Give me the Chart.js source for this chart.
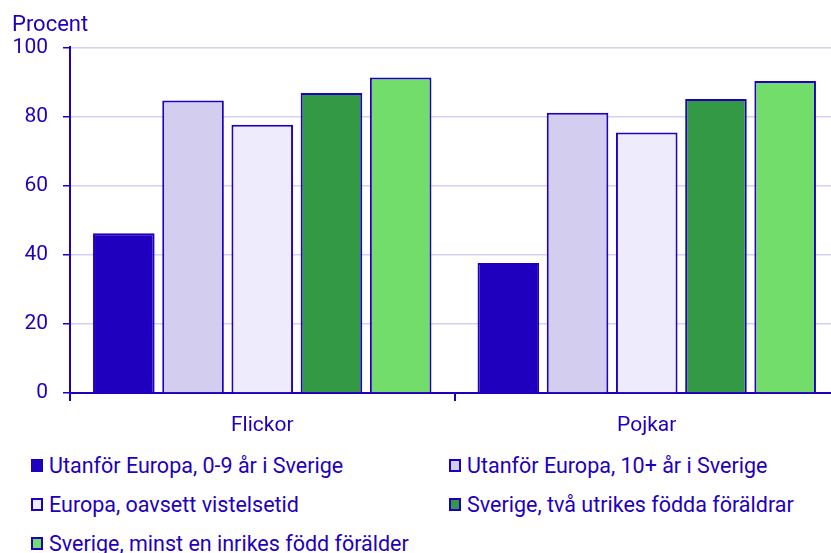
<!DOCTYPE html>
<html>
<head>
<meta charset="utf-8">
<script src="https://cdn.jsdelivr.net/npm/chart.js@4.4.1/dist/chart.umd.min.js"></script>
<style>
    html, body { margin: 0; background: #fff; font-family: Roboto, sans-serif; overflow: hidden; }
    /* the plot runs a little past the right edge in the original */
    #wrap { position: relative; width: 839px; height: 440px; }
    #legend { position: relative; width: 831px; height: 113px; color: #1e00be; font-size: 21.5px; overflow: hidden; }
    .item { position: absolute; display: flex; align-items: center; white-space: nowrap; }
    .box { width: 8px; height: 9px; border: 2px solid #1e00be; margin-right: 6px; }
</style>
</head>
<body>
<div id="wrap"><canvas id="chart"></canvas></div>
<div id="legend"></div>
<script>
var categories = ['Flickor', 'Pojkar'];
var seriesNames = [
    'Utanför Europa, 0-9 år i Sverige',
    'Utanför Europa, 10+ år i Sverige',
    'Europa, oavsett vistelsetid',
    'Sverige, två utrikes födda föräldrar',
    'Sverige, minst en inrikes född förälder'
];
var utanfor09 = [46.2, 37.6];
var utanfor10 = [84.6, 81.1];
var europa = [77.6, 75.4];
var sverigeTva = [86.8, 85.1];
var sverigeMinst = [91.3, 90.3];
var yTicks = [0, 20, 40, 60, 80, 100];

var colors = ['#1e00be', '#d3cdf0', '#eeebfd', '#339944', '#72dd6a'];
var blue = '#1e00be';
var values = [utanfor09, utanfor10, europa, sverigeTva, sverigeMinst];

var datasets = [];
for (var i = 0; i < values.length; i++) {
    datasets.push({
        label: seriesNames[i],
        data: values[i],
        backgroundColor: colors[i],
        borderColor: blue,
        borderWidth: 2,
        categoryPercentage: 0.9,
        barPercentage: 0.89
    });
}

var ctx = document.getElementById('chart').getContext('2d');
var myChart = new Chart(ctx, {
    type: 'bar',
    data: {
        labels: categories,
        datasets: datasets
    },
    options: {
        responsive: true,
        maintainAspectRatio: false,
        animation: false,
        layout: { padding: { left: 12, right: 0, top: 12, bottom: 0 } },
        plugins: {
            legend: { display: false },
            tooltip: { enabled: false },
            title: {
                display: true,
                text: 'Procent',
                align: 'start',
                color: blue,
                font: { family: 'Roboto', size: 22, weight: 'normal' },
                padding: { top: 0, bottom: 9 }
            }
        },
        scales: {
            x: {
                afterFit: function (axis) {
                    axis.height = 47;
                },
                grid: {
                    offset: true,
                    drawOnChartArea: false,
                    tickLength: 8,
                    tickColor: blue,
                    lineWidth: 2
                },
                border: { color: blue, width: 2 },
                ticks: {
                    color: blue,
                    padding: 12,
                    font: { family: 'Roboto', size: 21 }
                }
            },
            y: {
                min: 0,
                max: 100,
                afterBuildTicks: function (axis) {
                    axis.ticks = yTicks.map(function (v) { return { value: v }; });
                },
                afterFit: function (axis) {
                    axis.width = 58;
                },
                grid: {
                    color: '#d4d1f1',
                    lineWidth: 1.5,
                    tickLength: 7,
                    tickColor: blue
                },
                border: { color: blue, width: 2 },
                ticks: {
                    color: blue,
                    padding: 15,
                    font: { family: 'Roboto', size: 21 }
                }
            }
        }
    }
});

// legend in two columns
var legend = document.getElementById('legend');
var colX = [31, 449];
var rowY = [26, 65, 103.5];
for (var j = 0; j < seriesNames.length; j++) {
    var item = document.createElement('div');
    item.className = 'item';
    item.style.left = colX[j % 2] + 'px';
    item.style.top = (rowY[Math.floor(j / 2)] - 13) + 'px';
    var box = document.createElement('span');
    box.className = 'box';
    box.style.background = colors[j];
    var txt = document.createElement('span');
    txt.textContent = seriesNames[j];
    item.appendChild(box);
    item.appendChild(txt);
    legend.appendChild(item);
}
</script>
</body>
</html>
